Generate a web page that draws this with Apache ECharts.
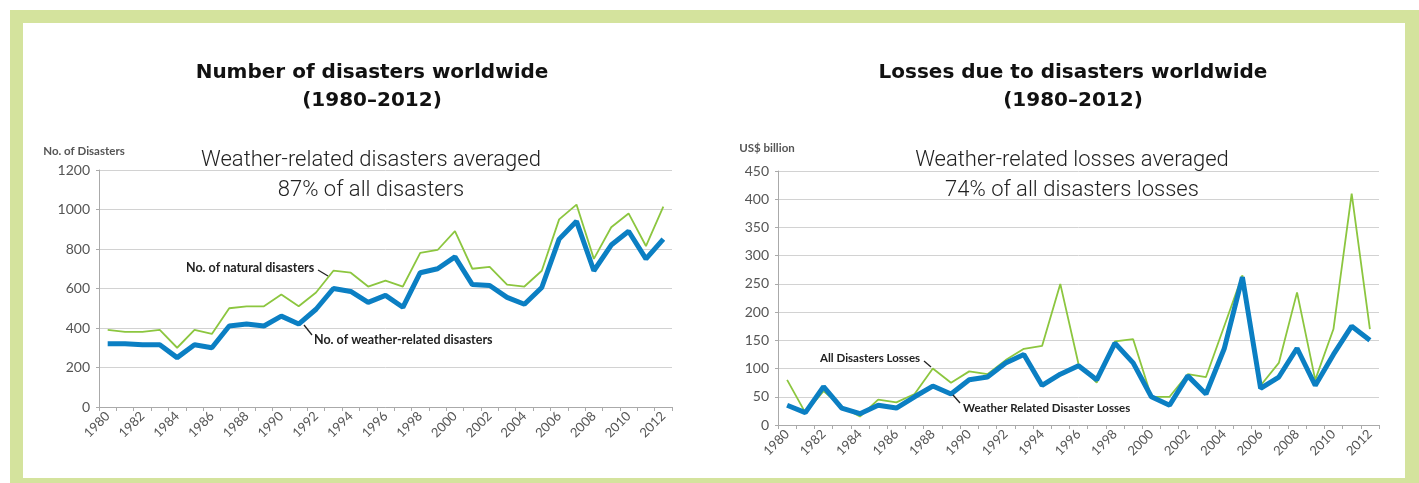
<!DOCTYPE html>
<html>
<head>
<meta charset="utf-8">
<script src="https://cdn.jsdelivr.net/npm/echarts@6/dist/echarts.min.js"></script>
<style>
html,body{margin:0;padding:0;background:#fff;}
#c{width:1419px;height:483px;}
</style>
</head>
<body>
<div id="c"></div>
<script>
// ---- data ----
const years = ['1980','1981','1982','1983','1984','1985','1986','1987','1988','1989','1990','1991','1992','1993','1994','1995','1996','1997','1998','1999','2000','2001','2002','2003','2004','2005','2006','2007','2008','2009','2010','2011','2012'];

const naturalDisasters = [390,380,380,390,300,390,370,500,510,510,570,510,580,690,680,610,640,610,780,795,890,700,710,620,610,690,950,1025,750,910,980,815,1015];
const weatherDisasters = [320,320,315,315,250,315,300,410,420,410,460,420,495,600,585,530,565,505,680,700,760,620,615,555,520,605,850,940,690,820,890,750,850];

const allLosses = [80,22,60,32,15,45,40,55,100,75,95,90,115,135,140,250,108,75,148,152,50,50,90,85,175,265,70,110,235,80,170,410,170];
const weatherLosses = [35,22,68,30,20,35,30,50,69,55,80,85,110,125,70,90,105,80,145,110,50,35,87,55,135,262,65,85,136,70,125,175,150];

const leftTicks = {min:0, max:1200, interval:200};
const rightTicks = {min:0, max:450, interval:50};

// ---- chart ----
const GREEN = '#8cc63f';
const BLUE = '#0b7fc3';
const LBL = '#555';
const FONT = 'Lato, "Open Sans", sans-serif';

const chart = echarts.init(document.getElementById('c'), null, {renderer:'canvas'});

function xAxisCfg(gi){
  return {
    type:'category', gridIndex:gi, data:years, boundaryGap:true,
    axisLine:{lineStyle:{color:'#aaa', width:1}},
    axisTick:{show:true, interval:0, length:4, lineStyle:{color:'#aaa'}},
    axisLabel:{interval:1, rotate:45, fontSize:13, color:LBL, fontFamily:FONT, margin:7}
  };
}
function yAxisCfg(gi, t, name, pad, gap){
  return {
    type:'value', gridIndex:gi, min:t.min, max:t.max, interval:t.interval,
    name:name, nameLocation:'end', nameGap:gap,
    nameTextStyle:{fontSize:11.5, fontWeight:'bold', color:LBL, fontFamily:FONT, align:'center', padding:pad},
    axisLine:{show:true, lineStyle:{color:'#aaa'}},
    axisTick:{show:true, length:3, lineStyle:{color:'#aaa'}},
    axisLabel:{fontSize:14, color:LBL, fontFamily:FONT, margin:9, formatter:function(v){return String(v);}},
    splitLine:{lineStyle:{color:'#d2d2d2', width:1}}
  };
}

const titleStyle = {fontFamily:'"DejaVu Sans", sans-serif', fontSize:20, fontWeight:'bold', color:'#111', lineHeight:28};
const subStyle = {fontFamily:'Roboto, "Open Sans", sans-serif', fontSize:22, fontWeight:300, color:'#222', lineHeight:30};
const annStyleL = {fontFamily:FONT, fontSize:12.5, fontWeight:'bold', fill:'#222'};
const annStyleR = {fontFamily:FONT, fontSize:11.5, fontWeight:'bold', fill:'#222'};

const option = {
  animation:false,
  backgroundColor:'#fff',
  title:[
    {text:'Number of disasters worldwide\n(1980–2012)', left:367, top:54, textAlign:'center', textStyle:titleStyle},
    {text:'Losses due to disasters worldwide\n(1980–2012)', left:1068, top:54, textAlign:'center', textStyle:titleStyle},
    {text:'Weather-related disasters averaged\n87% of all disasters', left:366, top:140, textAlign:'center', textStyle:subStyle},
    {text:'Weather-related losses averaged\n74% of all disasters losses', left:1067, top:140, textAlign:'center', textStyle:subStyle}
  ],
  grid:[
    {left:99, top:170, width:573, height:237},
    {left:778, top:171, width:601, height:254}
  ],
  xAxis:[xAxisCfg(0), xAxisCfg(1)],
  yAxis:[
    yAxisCfg(0, leftTicks, 'No. of Disasters', [0,30,0,0], 13),
    yAxisCfg(1, rightTicks, 'US$ billion', [0,22,0,0], 17)
  ],
  series:[
    {name:'No. of natural disasters', type:'line', xAxisIndex:0, yAxisIndex:0, data:naturalDisasters, symbol:'none', lineStyle:{color:GREEN, width:1.8}, z:3},
    {name:'No. of weather-related disasters', type:'line', xAxisIndex:0, yAxisIndex:0, data:weatherDisasters, symbol:'none', lineStyle:{color:BLUE, width:5}, z:4},
    {name:'All Disasters Losses', type:'line', xAxisIndex:1, yAxisIndex:1, data:allLosses, symbol:'none', lineStyle:{color:GREEN, width:1.8}, z:3},
    {name:'Weather Related Disaster Losses', type:'line', xAxisIndex:1, yAxisIndex:1, data:weatherLosses, symbol:'none', lineStyle:{color:BLUE, width:5}, z:4}
  ],
  graphic:[
    {type:'rect', z:-10, silent:true, shape:{x:10, y:10, width:1409, height:473}, style:{fill:'#d4e39d'}},
    {type:'rect', z:-9, silent:true, shape:{x:23, y:23, width:1382, height:455}, style:{fill:'#ffffff'}},
    {type:'text', z:10, x:186, y:261, style:Object.assign({text:'No. of natural disasters'}, annStyleL)},
    {type:'line', z:10, shape:{x1:318, y1:270, x2:328, y2:276}, style:{stroke:'#222', lineWidth:1.3}},
    {type:'text', z:10, x:314, y:333, style:Object.assign({text:'No. of weather-related disasters'}, annStyleL)},
    {type:'line', z:10, shape:{x1:304, y1:325, x2:312, y2:335}, style:{stroke:'#222', lineWidth:1.3}},
    {type:'text', z:10, x:820, y:352, style:Object.assign({text:'All Disasters Losses'}, annStyleR)},
    {type:'line', z:10, shape:{x1:924, y1:361, x2:931, y2:367}, style:{stroke:'#222', lineWidth:1.3}},
    {type:'text', z:10, x:963, y:402, style:Object.assign({text:'Weather Related Disaster Losses'}, annStyleR)},
    {type:'line', z:10, shape:{x1:953, y1:395, x2:960, y2:403}, style:{stroke:'#222', lineWidth:1.3}}
  ]
};
chart.setOption(option);
</script>
</body>
</html>
